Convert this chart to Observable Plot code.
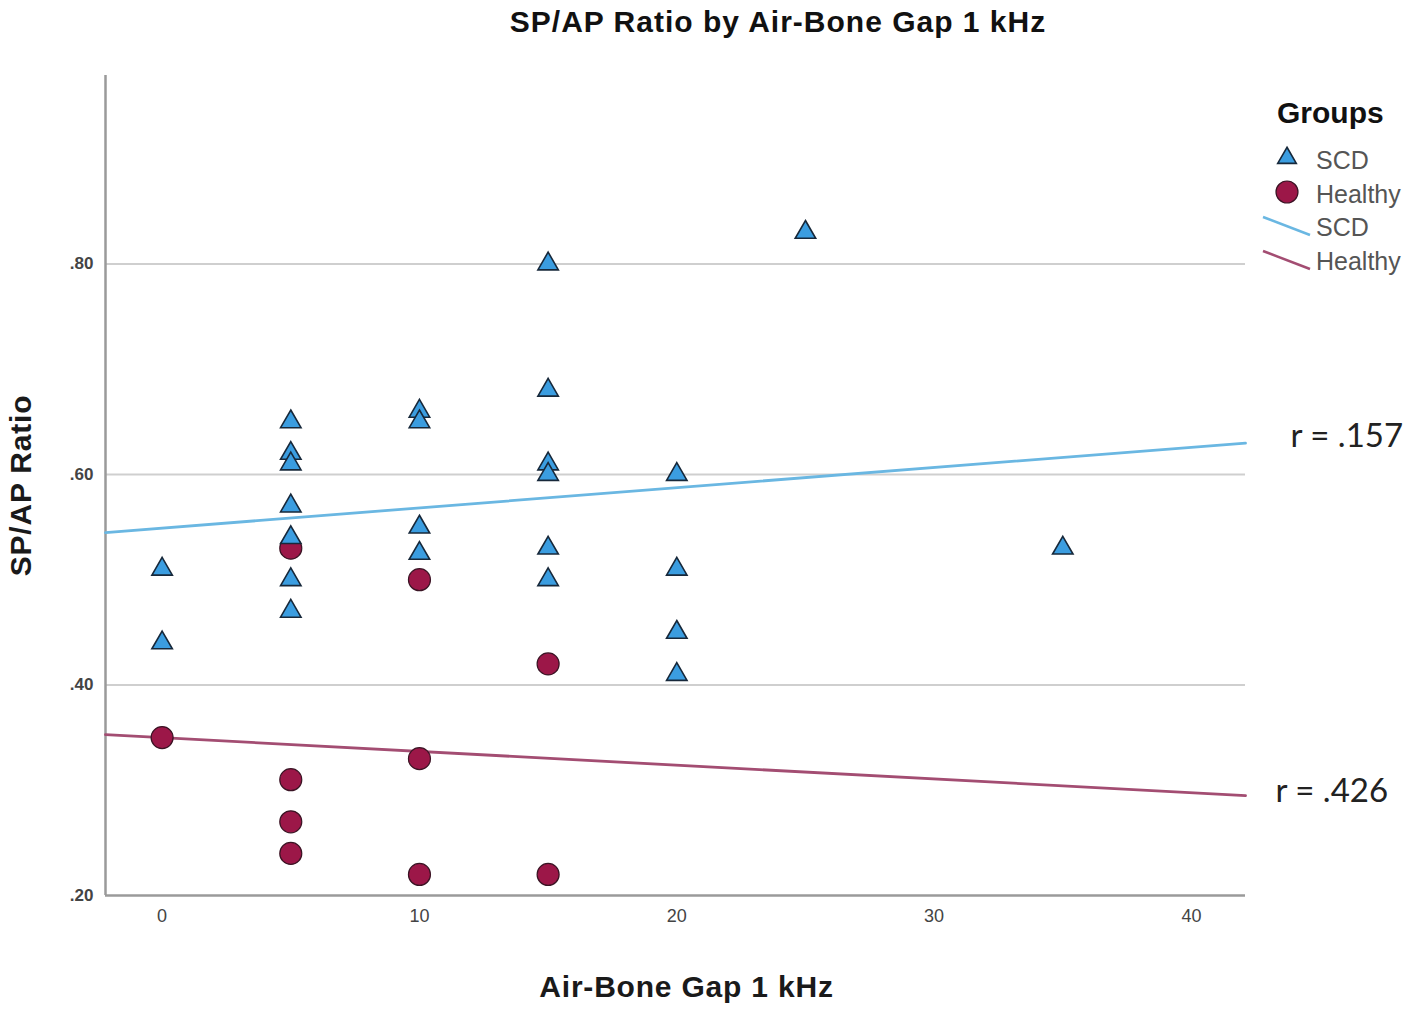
<!DOCTYPE html>
<html>
<head>
<meta charset="utf-8">
<script src="https://cdn.jsdelivr.net/npm/d3@7"></script>
<script src="https://cdn.jsdelivr.net/npm/@observablehq/plot@0.6"></script>
<style>
  body { margin: 0; background: #fff; font-family: "Liberation Sans", Arial, sans-serif; }
  #wrap { position: relative; width: 1417px; height: 1020px; overflow: hidden; }
  #title { position: absolute; top: 5px; left: 778px; transform: translateX(-50%); white-space: nowrap;
           font: bold 30px "Liberation Sans", Arial, sans-serif; color: #111; letter-spacing: 1px; }
  #chart { position: absolute; top: 50px; left: 0; }
  #legend { position: absolute; left: 1255px; top: 90px; }
</style>
</head>
<body>
<div id="wrap">
  <div id="title">SP/AP Ratio by Air-Bone Gap 1 kHz</div>
  <div id="chart"></div>
  <svg id="legend" width="162" height="200" xmlns="http://www.w3.org/2000/svg"></svg>
</div>
<script>
// ---- Data ----
const scdGap   = [0, 0, 5, 5, 5, 5, 5, 5, 5, 10, 10, 10, 10, 15, 15, 15, 15, 15, 15, 20, 20, 20, 20, 25, 35];
const scdRatio = [0.51, 0.44, 0.65, 0.62, 0.61, 0.57, 0.54, 0.50, 0.47, 0.66, 0.65, 0.55, 0.525, 0.80, 0.68, 0.61, 0.60, 0.53, 0.50, 0.60, 0.51, 0.45, 0.41, 0.83, 0.53];

const healthyGap   = [0, 5, 5, 5, 5, 10, 10, 10, 15, 15];
const healthyRatio = [0.35, 0.53, 0.31, 0.27, 0.24, 0.50, 0.33, 0.22, 0.42, 0.22];

const fitGroups     = ["SCD", "Healthy"];
const fitIntercepts = [0.549, 0.350];
const fitSlopes     = [0.00192, -0.00131];
const rLabels       = ["r = .157", "r = .426"];

const xTicks = [0, 10, 20, 30, 40];
const yTicks = [0.20, 0.40, 0.60, 0.80];
const xDomain = [-2.2, 42.1];
const yDomain = [0.2, 0.979];

// ---- Derived tables ----
const scd = scdGap.map((g, i) => ({gap: g, ratio: scdRatio[i]}));
const healthy = healthyGap.map((g, i) => ({gap: g, ratio: healthyRatio[i]}));
const fitLines = fitGroups.flatMap((grp, i) =>
  xDomain.map(x => ({group: grp, gap: x, ratio: fitIntercepts[i] + fitSlopes[i] * x})));
const fitEnds = fitGroups.map((grp, i) => ({group: grp, label: rLabels[i], gap: xDomain[1],
  ratio: fitIntercepts[i] + fitSlopes[i] * xDomain[1]}));

const SCD_FILL = "#3b9de0", SCD_LINE = "#6ab7e2";
const H_FILL = "#9c1748", H_LINE = "#a34d72";
const fmtY = d => d3.format(".2f")(d).replace(/^0/, "");

const chart = Plot.plot({
  width: 1417,
  height: 970,
  marginLeft: 105,
  marginRight: 172,
  marginTop: 25,
  marginBottom: 125,
  style: {fontFamily: "'Liberation Sans', Arial, sans-serif", background: "transparent"},
  x: {domain: xDomain, ticks: xTicks},
  y: {domain: yDomain, ticks: yTicks},
  marks: [
    Plot.ruleY(yTicks.filter(d => d > 0.2), {stroke: "#cfcfcf", strokeWidth: 2}),
    Plot.ruleX([xDomain[0]], {stroke: "#9a9a9a", strokeWidth: 2.5}),
    Plot.ruleY([yDomain[0]], {stroke: "#9a9a9a", strokeWidth: 2.5}),
    Plot.axisX({ticks: xTicks, tickSize: 0, tickPadding: 14, label: null,
      fontSize: 18, fill: "#444", tickFormat: d => String(d)}),
    Plot.axisY({ticks: yTicks, tickSize: 0, tickPadding: 12, label: null,
      fontSize: 17, fill: "#444", fontWeight: "bold", tickFormat: fmtY}),
    Plot.line(fitLines, {x: "gap", y: "ratio", z: "group",
      stroke: d => d.group === "SCD" ? SCD_LINE : H_LINE, strokeWidth: 2.8}),
    Plot.dot(healthy, {x: "gap", y: "ratio", r: 11, fill: H_FILL, stroke: "#3a1424", strokeWidth: 1.2}),
    Plot.dot(scd, {x: "gap", y: "ratio", symbol: "triangle", r: 7.6, fill: SCD_FILL, stroke: "#17283a", strokeWidth: 1.6}),
    Plot.text(fitEnds.filter(d => d.group === "SCD"), {x: "gap", y: "ratio", text: "label",
      textAnchor: "start", dx: 45, dy: -7, fontSize: 33, fill: "#222", fontFamily: "Lato, 'Open Sans', sans-serif"}),
    Plot.text(fitEnds.filter(d => d.group === "Healthy"), {x: "gap", y: "ratio", text: "label",
      textAnchor: "start", dx: 30, dy: -4, fontSize: 33, fill: "#222", fontFamily: "Lato, 'Open Sans', sans-serif"}),
    Plot.text(["Air-Bone Gap 1 kHz"], {frameAnchor: "bottom", dx: 11, dy: 101, fontSize: 30,
      fontWeight: "bold", fill: "#1a1a1a", style: {letterSpacing: "0.8px"}}),
    Plot.text(["SP/AP Ratio"], {frameAnchor: "left", textAnchor: "middle", dx: -84, rotate: -90, fontSize: 30,
      fontWeight: "bold", fill: "#1a1a1a"})
  ]
});
document.getElementById("chart").appendChild(chart);
d3.select(chart).selectAll("text").filter(function() { return this.textContent === "Air-Bone Gap 1 kHz" || this.textContent === "SP/AP Ratio"; })
  .style("letter-spacing", "0.8px");

// ---- Legend ----
const lg = d3.select("#legend");
lg.append("text").attr("x", 22).attr("y", 33).text("Groups")
  .attr("font-family", "'Liberation Sans', Arial, sans-serif").attr("font-weight", "bold")
  .attr("font-size", 30).attr("fill", "#111");
const items = [
  {label: fitGroups[0], kind: "tri", y: 79},
  {label: fitGroups[1], kind: "dot", y: 113},
  {label: fitGroups[0], kind: "line", color: SCD_LINE, y: 146},
  {label: fitGroups[1], kind: "line", color: H_LINE, y: 180}
];
items.forEach(it => {
  if (it.kind === "tri") {
    lg.append("path").attr("d", d3.symbol(d3.symbolTriangle, 150)())
      .attr("transform", `translate(32,${it.y - 11})`).attr("fill", SCD_FILL).attr("stroke", "#17283a").attr("stroke-width", 1.6);
  } else if (it.kind === "dot") {
    lg.append("circle").attr("cx", 32).attr("cy", it.y - 11).attr("r", 11).attr("fill", H_FILL)
      .attr("stroke", "#3a1424").attr("stroke-width", 1.2);
  } else {
    lg.append("line").attr("x1", 8).attr("y1", it.y - 19).attr("x2", 55).attr("y2", it.y - 1)
      .attr("stroke", it.color).attr("stroke-width", 2.5);
  }
  lg.append("text").attr("x", 61).attr("y", it.y).text(it.label)
    .attr("font-family", "'Liberation Sans', Arial, sans-serif").attr("font-size", 25).attr("fill", "#555");
});
</script>
</body>
</html>
